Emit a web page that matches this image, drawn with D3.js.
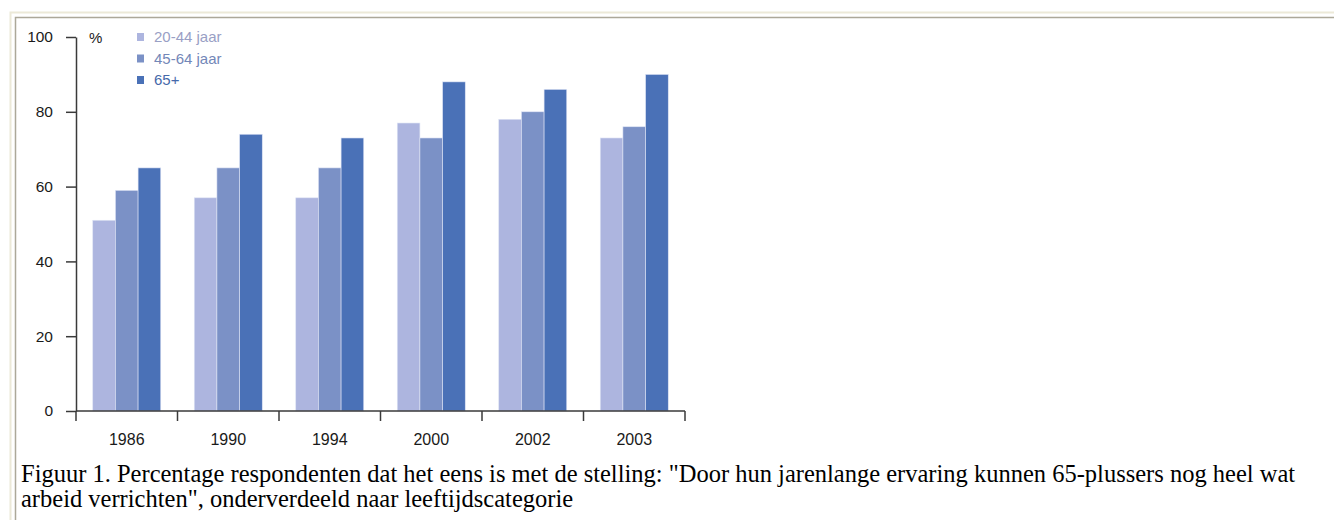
<!DOCTYPE html>
<html>
<head>
<meta charset="utf-8">
<script src="https://cdn.jsdelivr.net/npm/d3@7"></script>
<style>
  html, body { margin: 0; padding: 0; background: #fff; }
  svg { display: block; }
</style>
</head>
<body>
<svg id="chart" width="1334" height="520"></svg>
<script>
// Survey years (categories)
const years = ["1986", "1990", "1994", "2000", "2002", "2003"];
// Age groups (series)
const groups = ["20-44 jaar", "45-64 jaar", "65+"];
// Percentage agreeing, per age group, per year
const age20to44 = [51, 57, 57, 77, 78, 73];
const age45to64 = [59, 65, 65, 73, 80, 76];
const age65plus = [65, 74, 73, 88, 86, 90];
const yTicks = [0, 20, 40, 60, 80, 100];
const colors = ["#adb5df", "#7b91c6", "#4a71b7"];
const captionLines = [
  "Figuur 1. Percentage respondenten dat het eens is met de stelling: \"Door hun jarenlange ervaring kunnen 65-plussers nog heel wat",
  "arbeid verrichten\", onderverdeeld naar leeftijdscategorie"
];

const seriesValues = [age20to44, age45to64, age65plus];
const rows = years.map((yr, i) => ({
  year: yr,
  values: groups.map((g, k) => ({ group: g, k, value: seriesValues[k][i] }))
}));

const svg = d3.select("#chart");

// Window frame lines (top and left)
svg.append("path").attr("d", "M10.5,520 V12.5 H1334")
  .attr("fill", "none").attr("stroke", "#ece9d8").attr("stroke-width", 2);
svg.append("path").attr("d", "M15.5,520 V17.5 H1334")
  .attr("fill", "none").attr("stroke", "#aca899").attr("stroke-width", 1.5);

const plotLeft = 76, plotRight = 685, plotTop = 37, plotBottom = 411;

const y = d3.scaleLinear().domain([0, 100]).range([plotBottom, plotTop]);
const xCat = d3.scaleBand().domain(years).range([plotLeft, plotRight]);
const x0 = d3.scaleBand().domain(years).range([plotLeft, plotRight])
  .paddingInner(0.33).paddingOuter(0.165);
const x1 = d3.scaleBand().domain(groups).range([0, x0.bandwidth()]);

// Bars
const g = svg.append("g");
g.selectAll("g.year").data(rows).join("g")
  .attr("class", "year")
  .attr("transform", d => `translate(${x0(d.year)},0)`)
  .selectAll("rect").data(d => d.values).join("rect")
  .attr("x", d => x1(d.group))
  .attr("width", x1.bandwidth())
  .attr("y", d => y(d.value))
  .attr("height", d => y(0) - y(d.value))
  .attr("fill", d => colors[d.k])
  .attr("stroke", "#dfe4f5")
  .attr("stroke-width", 0.6);

const labelFont = "'Liberation Sans', Arial, sans-serif";

// Y axis
const yAxis = svg.append("g")
  .attr("transform", `translate(${plotLeft},0)`)
  .call(d3.axisLeft(y).tickValues(yTicks).tickSize(10).tickSizeOuter(0).tickPadding(13));
yAxis.select(".domain").attr("stroke", "#3a3a3a").attr("stroke-width", 1.5);
yAxis.selectAll(".tick line").attr("stroke", "#3a3a3a").attr("stroke-width", 1.5);
yAxis.selectAll(".tick text")
  .attr("font-family", labelFont).attr("font-size", 15.5).attr("fill", "#1a1a1a");

// X axis (labels centred in each category, ticks on category boundaries)
const xAxis = svg.append("g")
  .attr("transform", `translate(0,${plotBottom})`)
  .call(d3.axisBottom(xCat).tickSize(0).tickPadding(23));
xAxis.select(".domain").remove();
xAxis.selectAll(".tick text")
  .attr("font-family", labelFont).attr("font-size", 16).attr("fill", "#1a1a1a");
svg.append("line")
  .attr("x1", plotLeft).attr("x2", plotRight).attr("y1", plotBottom).attr("y2", plotBottom)
  .attr("stroke", "#3a3a3a").attr("stroke-width", 1.5);
const bounds = years.map(d => xCat(d)).concat([plotRight]);
svg.append("g").selectAll("line").data(bounds).join("line")
  .attr("x1", d => d).attr("x2", d => d)
  .attr("y1", plotBottom).attr("y2", plotBottom + 10)
  .attr("stroke", "#3a3a3a").attr("stroke-width", 1.5);

// Unit label
svg.append("text").attr("x", 89).attr("y", 43)
  .attr("font-family", labelFont).attr("font-size", 15).attr("fill", "#1a1a1a")
  .text("%");

// Legend
const legend = svg.append("g").attr("transform", "translate(137,0)");
const legendY = d3.scalePoint().domain(groups).range([37, 80]);
legend.selectAll("rect").data(groups).join("rect")
  .attr("x", 0).attr("y", d => legendY(d) - 4)
  .attr("width", 7).attr("height", 8)
  .attr("fill", (d, i) => colors[i]);
legend.selectAll("text").data(groups).join("text")
  .attr("x", 17).attr("y", d => legendY(d) + 5)
  .attr("font-family", labelFont).attr("font-size", 15)
  .attr("fill", (d, i) => d3.color(colors[i]).darker(i === 0 ? 0.35 : 0.2))
  .text(d => d);

// Caption
svg.append("g").selectAll("text").data(captionLines).join("text")
  .attr("x", 21).attr("y", (d, i) => 482 + i * 25)
  .attr("font-family", "'Liberation Serif', 'Times New Roman', serif")
  .attr("font-size", 24.5).attr("fill", "#000")
  .text(d => d);
</script>
</body>
</html>
